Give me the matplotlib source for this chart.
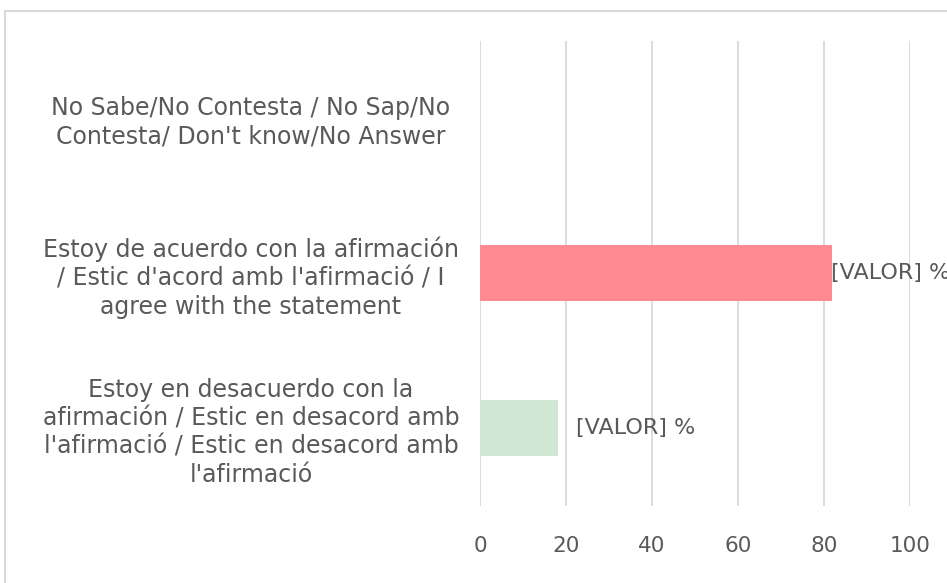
import matplotlib
matplotlib.use("Agg")
import matplotlib.pyplot as plt
from matplotlib.lines import Line2D

# categories listed bottom -> top, as they appear on the axis
categories = [
    "Estoy en desacuerdo con la\nafirmación / Estic en desacord amb\n"
    "l'afirmació / Estic en desacord amb\nl'afirmació",
    "Estoy de acuerdo con la afirmación\n/ Estic d'acord amb l'afirmació / I\n"
    "agree with the statement",
    "No Sabe/No Contesta / No Sap/No\nContesta/ Don't know/No Answer",
]
values = [18.2, 81.8, 0]
bar_colors = ["#D0E7D3", "#FF8A92", "#FFFFFF"]
value_labels = ["[VALOR] %", "[VALOR] %", ""]
label_offsets = [18, -1, 0]         # px gap between bar end and its label
x_ticks = [0, 20, 40, 60, 80, 100]

TEXT = "#595959"
GRID = "#D9D9D9"
W, H, DPI = 947, 583, 100

plt.rcParams["font.family"] = ["DejaVu Sans"]

fig = plt.figure(figsize=(W / DPI, H / DPI), dpi=DPI)
ax = fig.add_axes([480 / W, 1 - 505.5 / H, 430 / W, 465 / H])

ypos = list(range(len(categories)))
ax.barh(ypos, values, height=0.36, color=bar_colors, zorder=2)

for y, v, lab, off in zip(ypos, values, value_labels, label_offsets):
    if lab:
        ax.annotate(lab, (v, y), xytext=(off * 72 / DPI, 0), textcoords="offset points",
                    ha="left", va="center", fontsize=16, color=TEXT,
                    annotation_clip=False, zorder=3)

ax.set_xlim(0, 100)
ax.set_ylim(-0.5, len(categories) - 0.5)
ax.set_xticks(x_ticks)
ax.set_yticks(ypos)
ax.set_yticklabels(categories, ha="center", multialignment="center",
                   fontsize=17, color=TEXT, linespacing=1.22)
ax.tick_params(axis="y", length=0, pad=229 * 72 / DPI)
ax.tick_params(axis="x", length=0, pad=22, labelsize=15.5, labelcolor=TEXT)
ax.grid(axis="x", color=GRID, linewidth=1.3, zorder=0)
for s in ax.spines.values():
    s.set_visible(False)

# light chart-area border; its right and bottom sides fall outside the picture
top_y = 1 - 11 / H
left_x = 5 / W
fig.add_artist(Line2D([left_x, 1], [top_y, top_y], transform=fig.transFigure,
                      color=GRID, linewidth=1.5))
fig.add_artist(Line2D([left_x, left_x], [0, top_y], transform=fig.transFigure,
                      color=GRID, linewidth=1.5))

fig.savefig("out.png", dpi=DPI)
